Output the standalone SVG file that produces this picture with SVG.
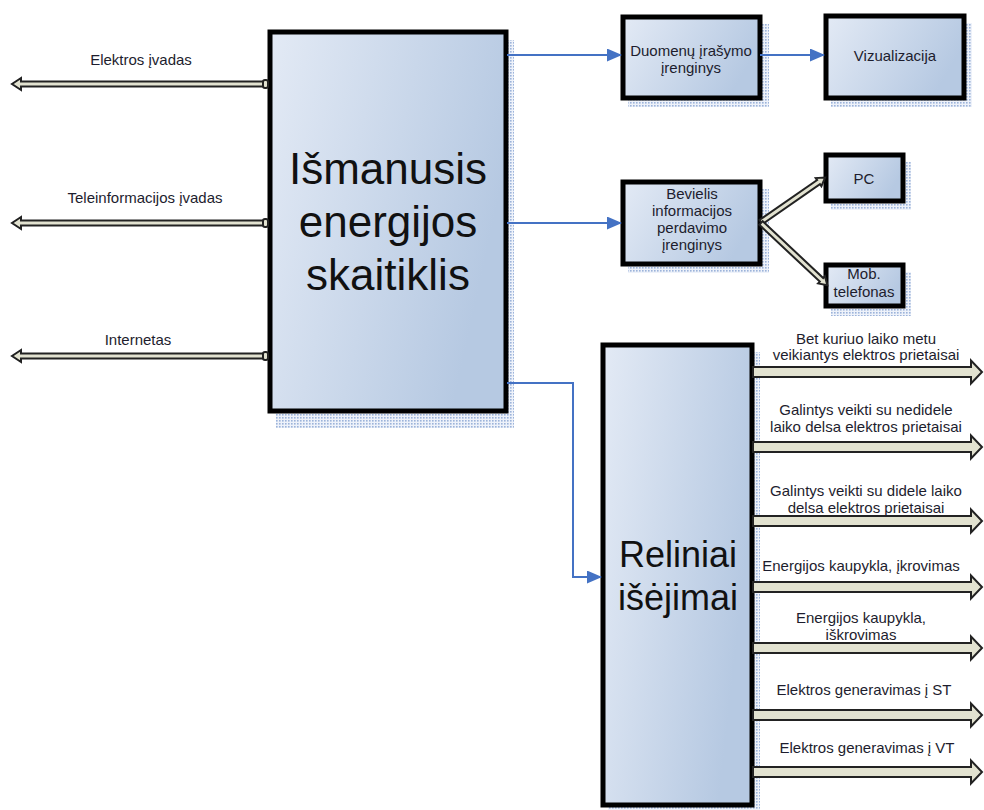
<svg xmlns="http://www.w3.org/2000/svg" width="984" height="810" viewBox="0 0 984 810">
  <defs>
    <linearGradient id="boxFill" x1="0" y1="0" x2="1" y2="0.35">
      <stop offset="0" stop-color="#e3eaf5"/>
      <stop offset="1" stop-color="#b6c9e2"/>
    </linearGradient>
    <pattern id="dots" width="3" height="3" patternUnits="userSpaceOnUse">
      <rect width="3" height="3" fill="#eef2fa"/>
      <rect x="0" y="0" width="1.6" height="1.6" fill="#9cb3da"/>
    </pattern>
    <marker id="blueHead" markerWidth="15" markerHeight="13" refX="14" refY="6.5" orient="auto" markerUnits="userSpaceOnUse">
      <path d="M0,0 L15,6.5 L0,13 Z" fill="#4472c4"/>
    </marker>
    <!-- block arrow glyph (shaft + head), drawn pointing right from the origin -->
    <path id="fatArrow" d="M0,-5 H218 V-11.5 L229,0 L218,11.5 V5 H0 Z"/>
  </defs>
  <style>
    .box { fill: url(#boxFill); stroke: #000; stroke-width: 5; }
    .shadow { fill: url(#dots); }
    .lbl { font-family: "Liberation Sans", Arial, sans-serif; font-size: 15px; fill: #1d1d2e; text-anchor: middle; }
    .big { font-family: "Liberation Sans", Arial, sans-serif; fill: #111; text-anchor: middle; }
    .blue { fill: none; stroke: #4472c4; stroke-width: 2; marker-end: url(#blueHead); }
    .dbl { fill: #e2e2d0; stroke: #222; stroke-width: 2; stroke-linejoin: miter; }
  </style>

  <!-- Main meter block -->
  <g id="skaitiklis">
    <rect class="shadow" x="276" y="40" width="238" height="388"/>
    <rect class="box" x="270" y="32" width="236" height="379"/>
    <text class="big" font-size="44" x="388" y="184">Išmanusis</text>
    <text class="big" font-size="44" x="388" y="237">energijos</text>
    <text class="big" font-size="44" x="388" y="290">skaitiklis</text>
  </g>

  <g id="duomenu">
    <rect class="shadow" x="628" y="24" width="141" height="83"/>
    <rect class="box" x="623" y="17" width="137" height="81"/>
    <text class="lbl" x="691" y="56">Duomenų įrašymo</text>
    <text class="lbl" x="691" y="73">įrenginys</text>
  </g>

  <g id="vizualizacija">
    <rect class="shadow" x="831" y="23" width="141" height="84"/>
    <rect class="box" x="826" y="16" width="138" height="82"/>
    <text class="lbl" x="895" y="61">Vizualizacija</text>
  </g>

  <g id="bevielis">
    <rect class="shadow" x="628" y="189" width="141" height="84"/>
    <rect class="box" x="623" y="182" width="137" height="82"/>
    <text class="lbl" x="692" y="199">Bevielis</text>
    <text class="lbl" x="692" y="216">informacijos</text>
    <text class="lbl" x="692" y="233">perdavimo</text>
    <text class="lbl" x="692" y="250">įrenginys</text>
  </g>

  <g id="pc">
    <rect class="shadow" x="831" y="162" width="80" height="48"/>
    <rect class="box" x="826" y="155" width="77" height="46"/>
    <text class="lbl" x="864" y="184">PC</text>
  </g>

  <g id="mob">
    <rect class="shadow" x="831" y="272" width="80" height="44"/>
    <rect class="box" x="826" y="265" width="77" height="41"/>
    <text class="lbl" x="864" y="279">Mob.</text>
    <text class="lbl" x="864" y="297">telefonas</text>
  </g>

  <!-- Relay outputs block -->
  <g id="reliniai">
    <rect class="shadow" x="608" y="352" width="152" height="458"/>
    <rect class="box" x="603" y="345" width="149" height="460"/>
    <text class="big" font-size="36" x="678" y="567">Reliniai</text>
    <text class="big" font-size="36" x="678" y="610">išėjimai</text>
  </g>

  <!-- Connectors -->
  <g id="connectors">
    <!-- bidirectional inputs on the left -->
    <g class="dbl">
      <path d="M266,81.5 H21 V78 L12,84 L21,90 V86.5 H266 Z"/>
      <path d="M266,220.5 H21 V217 L12,223 L21,229 V225.5 H266 Z"/>
      <path d="M266,353.5 H21 V350 L12,356 L21,362 V358.5 H266 Z"/>
      <rect x="263" y="80" width="5" height="8" rx="2"/>
      <rect x="263" y="219" width="5" height="8" rx="2"/>
      <rect x="263" y="352" width="5" height="8" rx="2"/>
    </g>

    <!-- data flow -->
    <path class="blue" d="M507,55 H621"/>
    <path class="blue" d="M760,55 H824"/>
    <path class="blue" d="M507,223 H621"/>
    <path class="blue" d="M507,383 H573 V577 H601"/>

    <!-- wireless links -->
    <g class="dbl">
      <path transform="translate(761,222) rotate(-34.7)" d="M0,-2.5 H70 V-5 L78,0 L70,5 V2.5 H0 Z"/>
      <path transform="translate(761,223) rotate(43.2)" d="M0,-2.5 H83 V-5 L91,0 L83,5 V2.5 H0 Z"/>
    </g>

    <!-- relay output arrows -->
    <g class="dbl">
      <use href="#fatArrow" x="753" y="372"/>
      <use href="#fatArrow" x="753" y="447"/>
      <use href="#fatArrow" x="753" y="521"/>
      <use href="#fatArrow" x="753" y="587"/>
      <use href="#fatArrow" x="753" y="648"/>
      <use href="#fatArrow" x="753" y="715"/>
      <use href="#fatArrow" x="753" y="772"/>
    </g>
  </g>

  <!-- Connector labels -->
  <g id="labels">
    <text class="lbl" x="141" y="65">Elektros įvadas</text>
    <text class="lbl" x="145" y="203">Teleinformacijos įvadas</text>
    <text class="lbl" x="138" y="345">Internetas</text>

    <text class="lbl" x="866" y="344">Bet kuriuo laiko metu</text>
    <text class="lbl" x="866" y="360">veikiantys elektros prietaisai</text>
    <text class="lbl" x="866" y="415">Galintys veikti su nedidele</text>
    <text class="lbl" x="866" y="432">laiko delsa elektros prietaisai</text>
    <text class="lbl" x="866" y="496">Galintys veikti su didele laiko</text>
    <text class="lbl" x="866" y="513">delsa elektros prietaisai</text>
    <text class="lbl" x="861" y="571">Energijos kaupykla, įkrovimas</text>
    <text class="lbl" x="861" y="623">Energijos kaupykla,</text>
    <text class="lbl" x="861" y="640">iškrovimas</text>
    <text class="lbl" x="864" y="695">Elektros generavimas į ST</text>
    <text class="lbl" x="867" y="753">Elektros generavimas į VT</text>
  </g>
</svg>
